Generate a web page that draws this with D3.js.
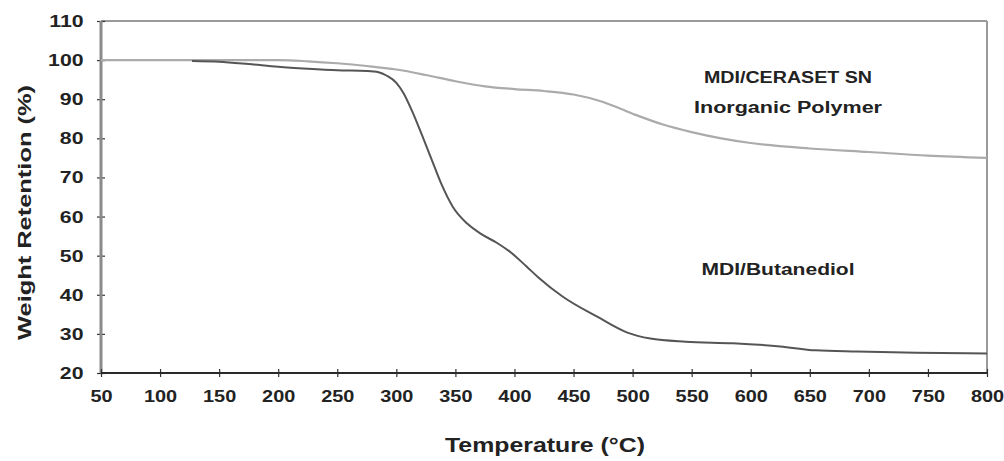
<!DOCTYPE html>
<html>
<head>
<meta charset="utf-8">
<script src="https://cdn.jsdelivr.net/npm/d3@7"></script>
<style>
body { margin: 0; background: #fff; }
svg { display: block; font-family: "Liberation Sans", Arial, sans-serif; }
.tick text { font-weight: bold; fill: #222; }
</style>
</head>
<body>
<svg id="chart" width="1004" height="461"></svg>
<script>
// tick values
var xTicks = [50,100,150,200,250,300,350,400,450,500,550,600,650,700,750,800];
var yTicks = [20,30,40,50,60,70,80,90,100,110];

// MDI/CERASET SN inorganic polymer (upper curve)
var polymerT = [50,100,150,200,225,250,275,300,325,350,375,400,425,450,475,500,525,550,575,600,650,700,750,800];
var polymerW = [100,100,100,100,99.7,99.2,98.5,97.6,96.2,94.6,93.3,92.6,92.1,91.2,89.3,86.3,83.6,81.6,80.0,78.8,77.4,76.5,75.6,75.0];

// MDI/Butanediol (lower curve)
var butT = [127,150,175,200,225,250,275,285,292,300,306,314,322,330,338,348,360,372,385,397,410,420,441,470,495,515,545,585,625,655,690,740,800];
var butW = [99.8,99.6,99.0,98.3,97.8,97.4,97.2,96.9,96.0,94.2,91.6,86.5,80.6,74.5,68.4,62.4,58.2,55.5,53.3,50.8,47.3,44.5,39.5,34.4,30.4,28.8,28.0,27.6,26.8,25.8,25.5,25.2,25.0];

var svg = d3.select("#chart");
var margin = {top: 21, right: 17, bottom: 88, left: 101},
    width = 1004 - margin.left - margin.right,
    height = 461 - margin.top - margin.bottom;

var x = d3.scaleLinear().domain([50, 800]).range([0, width]),
    y = d3.scaleLinear().domain([20, 110]).range([height, 0]);

var g = svg.append("g")
    .attr("transform", "translate(" + margin.left + "," + margin.top + ")");

// frame: top and right in grey
g.append("line").attr("x1", 0).attr("x2", width).attr("y1", 0).attr("y2", 0)
    .attr("stroke", "#9a9a9a").attr("stroke-width", 2);
g.append("line").attr("x1", width).attr("x2", width).attr("y1", 0).attr("y2", height)
    .attr("stroke", "#9a9a9a").attr("stroke-width", 2);

// y axis
var yAxis = g.append("g")
    .call(d3.axisLeft(y).tickValues(yTicks).tickSize(4));
yAxis.select(".domain").remove();
yAxis.selectAll(".tick line").attr("x1", -4).attr("x2", 4).attr("stroke", "#333").attr("stroke-width", 1.2);
yAxis.selectAll(".tick text").style("font-size", "17px")
    .attr("x", -14)
    .attr("transform", "scale(1.25,1)");
g.append("line").attr("x1", 0).attr("x2", 0).attr("y1", 0).attr("y2", height)
    .attr("stroke", "#8a8a8a").attr("stroke-width", 3);

// x axis
var xAxis = g.append("g")
    .attr("transform", "translate(0," + height + ")")
    .call(d3.axisBottom(x).tickValues(xTicks).tickSize(4).tickPadding(13));
xAxis.select(".domain").remove();
xAxis.selectAll(".tick line").attr("y1", -4).attr("y2", 4).attr("stroke", "#333").attr("stroke-width", 1.2);
xAxis.selectAll(".tick text").style("font-size", "17px")
    .attr("transform", "scale(1.17,1)");
g.append("line").attr("x1", 0).attr("x2", width).attr("y1", height).attr("y2", height)
    .attr("stroke", "#2a2a2a").attr("stroke-width", 2);

// curves
var line = d3.line()
    .x(function(d) { return x(d[0]); })
    .y(function(d) { return y(d[1]); })
    .curve(d3.curveMonotoneX);

g.append("path")
    .datum(d3.zip(polymerT, polymerW))
    .attr("fill", "none")
    .attr("stroke", "#ababab")
    .attr("stroke-width", 2.2)
    .attr("d", line);

g.append("path")
    .datum(d3.zip(butT, butW))
    .attr("fill", "none")
    .attr("stroke", "#555")
    .attr("stroke-width", 2)
    .attr("d", line);

// annotations
function label(txt, cx, by, size, len) {
    svg.append("text")
        .attr("x", cx - len / 2).attr("y", by)
        .attr("textLength", len).attr("lengthAdjust", "spacingAndGlyphs")
        .style("font-size", size + "px").style("font-weight", "bold")
        .attr("fill", "#222")
        .text(txt);
}
label("MDI/CERASET SN", 788, 83, 16, 168);
label("Inorganic Polymer", 788, 113, 16, 188);
label("MDI/Butanediol", 778, 275, 16, 153);

// axis titles
svg.append("text")
    .attr("x", 445).attr("y", 452)
    .attr("textLength", 200).attr("lengthAdjust", "spacingAndGlyphs")
    .style("font-size", "20px").style("font-weight", "bold").attr("fill", "#222")
    .text("Temperature (°C)");

svg.append("text")
    .attr("transform", "translate(31,340) rotate(-90)")
    .attr("textLength", 255).attr("lengthAdjust", "spacingAndGlyphs")
    .style("font-size", "19px").style("font-weight", "bold").attr("fill", "#222")
    .text("Weight Retention (%)");
</script>
</body>
</html>
